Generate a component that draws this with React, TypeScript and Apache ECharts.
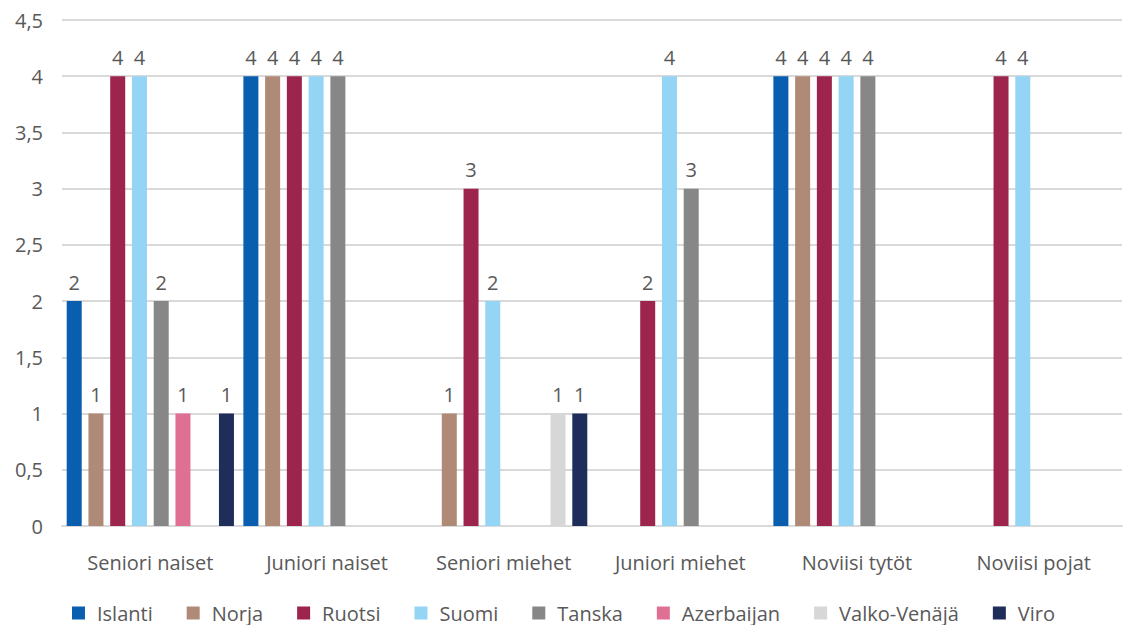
import React, { useEffect, useRef } from "react";
import * as echarts from "echarts";

const categories = ["Seniori naiset", "Juniori naiset", "Seniori miehet", "Juniori miehet", "Noviisi tytöt", "Noviisi pojat"];
const seriesNames = ["Islanti", "Norja", "Ruotsi", "Suomi", "Tanska", "Azerbaijan", "Valko-Venäjä", "Viro"];
const islanti = [2, 4, null, null, 4, null];
const norja = [1, 4, 1, null, 4, null];
const ruotsi = [4, 4, 3, 2, 4, 4];
const suomi = [4, 4, 2, 4, 4, 4];
const tanska = [2, 4, null, 3, 4, null];
const azerbaijan = [1, null, null, null, null, null];
const valkoVenaja = [null, null, 1, null, null, null];
const viro = [1, null, 1, null, null, null];
const seriesValues = [islanti, norja, ruotsi, suomi, tanska, azerbaijan, valkoVenaja, viro];
const colors = ["#0A5EAF", "#AF8A77", "#9D244C", "#94D4F4", "#878787", "#E07093", "#D7D7D7", "#1F2D5A"];

export default function App() {
  const ref = useRef<HTMLDivElement>(null);
  useEffect(() => {
    if (!ref.current) return;
    const chart = echarts.init(ref.current, null, { renderer: "svg" });
    const font = "'Open Sans', 'Noto Sans', sans-serif";
    chart.setOption({
      animation: false,
      textStyle: { fontFamily: font },
      grid: { left: 62, right: 5, top: 20, bottom: 99 },
      legend: {
        top: 598,
        left: "center",
        itemWidth: 13,
        itemHeight: 13,
        itemGap: 34,
        icon: "rect",
        textStyle: { color: "#595959", fontSize: 20, fontFamily: font, padding: [0, 0, 0, 7] },
        data: seriesNames,
      },
      xAxis: {
        type: "category",
        data: categories,
        axisLine: { lineStyle: { color: "#D9D9D9", width: 2 } },
        axisTick: { show: false },
        axisLabel: { color: "#595959", fontSize: 20, margin: 26, fontFamily: font },
      },
      yAxis: {
        type: "value",
        min: 0,
        max: 4.5,
        interval: 0.5,
        axisLine: { show: false },
        axisTick: { show: false },
        splitLine: { lineStyle: { color: "#D9D9D9", width: 2 } },
        axisLabel: {
          color: "#595959",
          fontSize: 20,
          margin: 19,
          fontFamily: font,
          formatter: (v: number) => String(v).replace(".", ","),
        },
      },
      series: seriesNames.map((name, i) => ({
        name,
        type: "bar",
        data: seriesValues[i],
        barWidth: 15,
        barGap: "45%",
        itemStyle: { color: colors[i] },
        label: {
          show: true,
          position: "top",
          distance: 9,
          color: "#595959",
          fontSize: 20,
          fontFamily: font,
        },
      })),
    });
    return () => chart.dispose();
  }, []);
  return <div ref={ref} style={{ width: 1127, height: 625, position: "absolute", left: 0, top: 0 }} />;
}
